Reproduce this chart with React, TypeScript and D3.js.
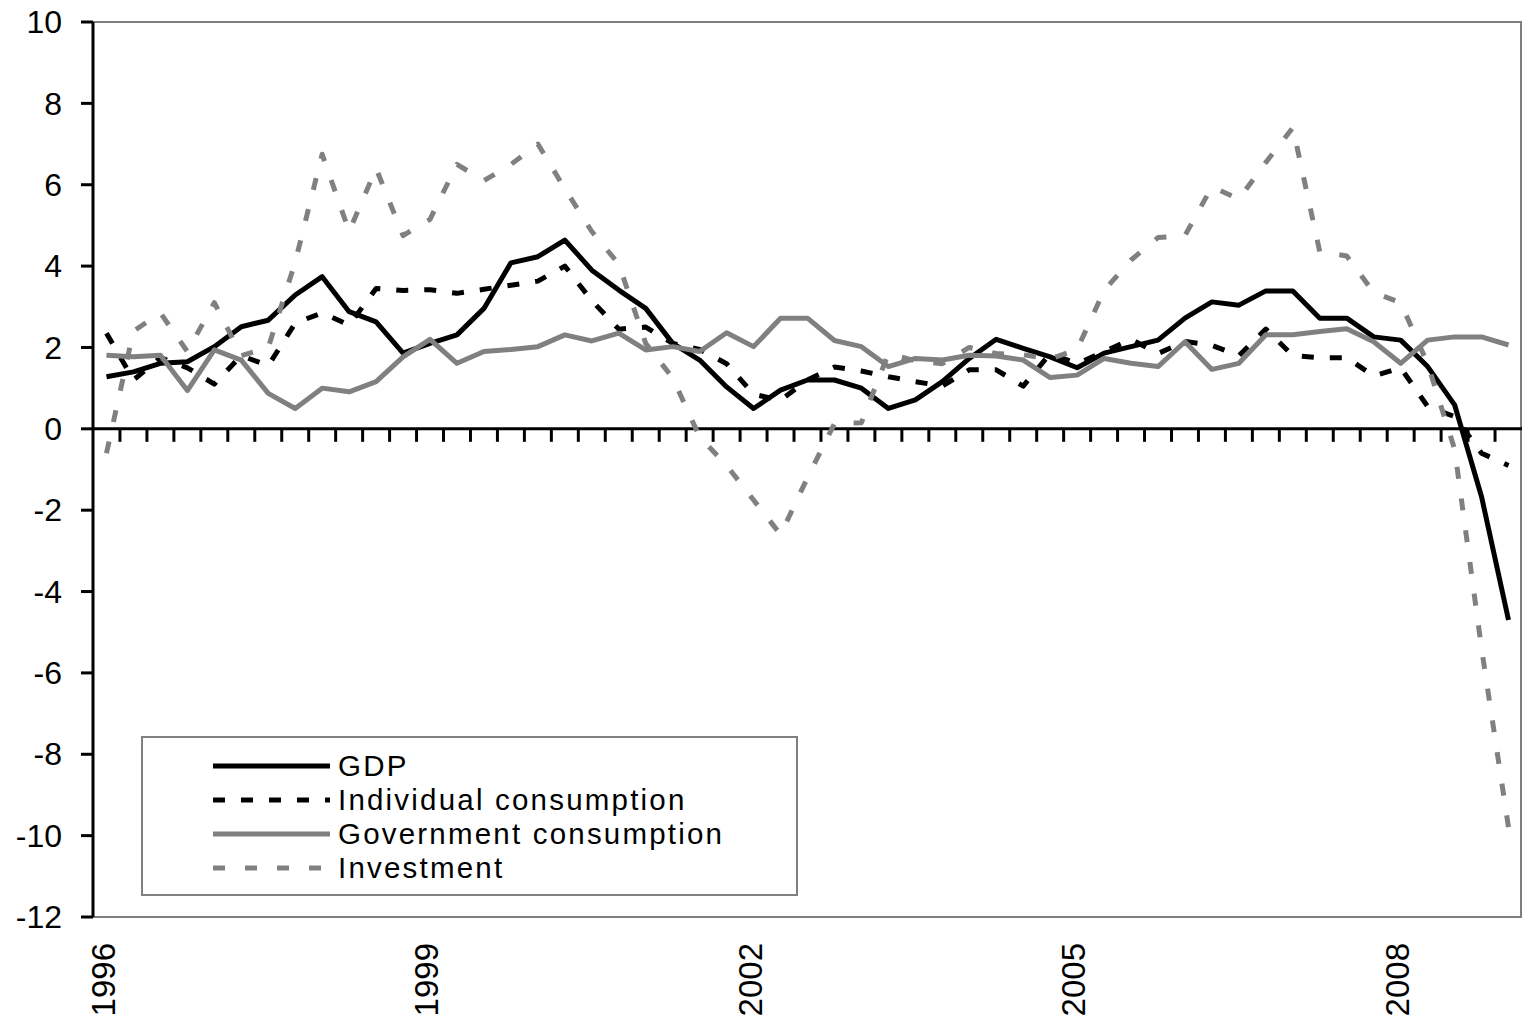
import React, { useEffect, useRef } from "react";
import * as d3 from "d3";

// quarterly, 1996Q1 .. 2009Q1
const quarters = d3.range(53).map((i) => `${1996 + Math.floor(i / 4)}Q${(i % 4) + 1}`);
const yearLabels = ["1996", "1999", "2002", "2005", "2008"];
const yTicks = [-12, -10, -8, -6, -4, -2, 0, 2, 4, 6, 8, 10];

const gdp = [
  1.28, 1.4, 1.61, 1.65, 2.02, 2.51, 2.67, 3.29, 3.74, 2.88, 2.63, 1.86, 2.1,
  2.31, 2.96, 4.08, 4.23, 4.64, 3.9, 3.41, 2.96, 2.1, 1.69, 1.03, 0.5,
  0.95, 1.2, 1.2, 1.0, 0.5, 0.71, 1.16, 1.73, 2.2, 1.98, 1.77, 1.5,
  1.86, 2.02, 2.18, 2.72, 3.12, 3.04, 3.39, 3.39, 2.72, 2.72, 2.26, 2.18, 1.53, 0.59, -1.67, -4.7,
];
const individual = [
  2.35, 1.2, 1.75, 1.5, 1.1, 1.8, 1.55, 2.6, 2.85, 2.55,
  3.45, 3.4, 3.42, 3.33, 3.43, 3.53, 3.63, 4.0, 3.15, 2.45,
  2.5, 2.1, 1.95, 1.6, 0.85, 0.7, 1.2, 1.52, 1.42, 1.28,
  1.16, 1.05, 1.45, 1.45, 1.05, 1.85, 1.6, 1.9, 2.2, 1.85,
  2.15, 2.05, 1.8, 2.45, 1.8, 1.75, 1.75, 1.3, 1.5, 0.55,
  0.3, -0.6, -0.9,
];
const government = [
  1.81, 1.77, 1.81, 0.94, 1.94, 1.69, 0.87, 0.5, 1.0, 0.91, 1.16, 1.77, 2.2,
  1.61, 1.9, 1.95, 2.02, 2.31, 2.16, 2.35, 1.94, 2.02, 1.9, 2.36, 2.02,
  2.72, 2.72, 2.17, 2.02, 1.53, 1.73, 1.69, 1.81, 1.79, 1.69, 1.26, 1.32,
  1.73, 1.61, 1.53, 2.14, 1.46, 1.61, 2.31, 2.31, 2.39, 2.46, 2.14, 1.61, 2.18, 2.26, 2.26, 2.06,
];
const investment = [
  -0.6, 2.4, 2.85, 1.9, 3.1, 1.8, 2.0, 4.1, 6.75, 4.85,
  6.4, 4.75, 5.15, 6.5, 6.1, 6.5, 7.0, 5.9, 4.85, 4.05,
  2.1, 1.25, -0.2, -0.9, -1.75, -2.6, -1.2, 0.13, 0.15, 1.85,
  1.67, 1.6, 2.0, 1.85, 1.82, 1.72, 1.95, 3.4, 4.15, 4.7,
  4.75, 5.95, 5.65, 6.55, 7.4, 4.35, 4.25, 3.35, 3.1, 1.6,
  -0.5, -5.4, -9.8,
];

const seriesNames = ["GDP", "Individual consumption", "Government consumption", "Investment"];

const W = 1522;
const H = 1022;
const left = 93;
const right = 1522;
const top = 22;
const bottom = 917;
const font = "'Liberation Sans', Arial, sans-serif";
const gray = "#808080";

const App = () => {
  const ref = useRef<SVGSVGElement>(null);

  useEffect(() => {
    const svg = d3.select(ref.current);
    svg.selectAll("*").remove();

    const x = d3.scaleBand<string>().domain(quarters).range([left, right]);
    const y = d3.scaleLinear().domain([-12, 10]).range([bottom, top]);
    const cx = (i: number) => (x(quarters[i]) as number) + x.bandwidth() / 2;

    // plot border
    svg.append("rect")
      .attr("x", left).attr("y", top)
      .attr("width", right - left - 1).attr("height", bottom - top)
      .attr("fill", "none").attr("stroke", gray).attr("stroke-width", 2);

    // y axis
    const yAxis = svg.append("g");
    yAxis.append("line")
      .attr("x1", left).attr("x2", left).attr("y1", top).attr("y2", bottom)
      .attr("stroke", "#000").attr("stroke-width", 3);
    yAxis.selectAll("line.tick").data(yTicks).enter().append("line")
      .attr("class", "tick")
      .attr("x1", left - 12).attr("x2", left)
      .attr("y1", (d) => y(d)).attr("y2", (d) => y(d))
      .attr("stroke", "#000").attr("stroke-width", 3);
    yAxis.selectAll("text").data(yTicks).enter().append("text")
      .attr("x", 62).attr("y", (d) => y(d)).attr("dy", "0.35em")
      .attr("text-anchor", "end")
      .style("font-family", font).style("font-size", "32px")
      .text((d) => String(d));

    // x axis on the zero line
    const xAxis = svg.append("g");
    xAxis.append("line")
      .attr("x1", left).attr("x2", right).attr("y1", y(0)).attr("y2", y(0))
      .attr("stroke", "#000").attr("stroke-width", 3);
    xAxis.selectAll("line.tick").data(quarters.slice(1)).enter().append("line")
      .attr("class", "tick")
      .attr("x1", (d) => x(d) as number).attr("x2", (d) => x(d) as number)
      .attr("y1", y(0)).attr("y2", y(0) + 13)
      .attr("stroke", "#000").attr("stroke-width", 3);

    const labelled = quarters
      .map((q, i) => ({ q, i }))
      .filter((d) => d.q.endsWith("Q1") && yearLabels.includes(d.q.slice(0, 4)));
    xAxis.selectAll("text").data(labelled).enter().append("text")
      .attr("transform", (d) => `translate(${cx(d.i)}, 943) rotate(-90)`)
      .attr("dy", "0.25em")
      .attr("text-anchor", "end")
      .style("font-family", font).style("font-size", "33px")
      .text((d) => d.q.slice(0, 4));

    // lines
    const series = [
      { name: seriesNames[0], values: gdp, color: "#000", dash: null },
      { name: seriesNames[1], values: individual, color: "#000", dash: "12,16" },
      { name: seriesNames[2], values: government, color: gray, dash: null },
      { name: seriesNames[3], values: investment, color: gray, dash: "12,20" },
    ];
    const line = d3.line<number>().x((d, i) => cx(i)).y((d) => y(d));

    svg.selectAll("path.series").data(series).enter().append("path")
      .attr("class", "series")
      .attr("d", (d) => line(d.values))
      .attr("fill", "none")
      .attr("stroke", (d) => d.color)
      .attr("stroke-width", 5)
      .attr("stroke-linejoin", "round")
      .attr("stroke-dasharray", (d) => d.dash);

    // legend
    const lg = svg.append("g");
    lg.append("rect")
      .attr("x", 142).attr("y", 737).attr("width", 655).attr("height", 158)
      .attr("fill", "#fff").attr("stroke", gray).attr("stroke-width", 2);
    const rows = lg.selectAll("g.row").data(series).enter().append("g")
      .attr("class", "row")
      .attr("transform", (d, i) => `translate(0, ${766 + i * 34})`);
    rows.append("line")
      .attr("x1", 213).attr("x2", 330).attr("y1", 0).attr("y2", 0)
      .attr("stroke", (d) => d.color).attr("stroke-width", 5)
      .attr("stroke-dasharray", (d) => d.dash);
    rows.append("text")
      .attr("x", 338).attr("dy", "0.35em")
      .style("font-family", font).style("font-size", "29.5px")
      .style("letter-spacing", "2.2px")
      .text((d) => d.name);
  }, []);

  return (
    <div style={{ position: "absolute", left: 0, top: 0 }}>
      <svg ref={ref} width={W} height={H} style={{ display: "block", background: "#fff" }} />
    </div>
  );
};

export default App;
